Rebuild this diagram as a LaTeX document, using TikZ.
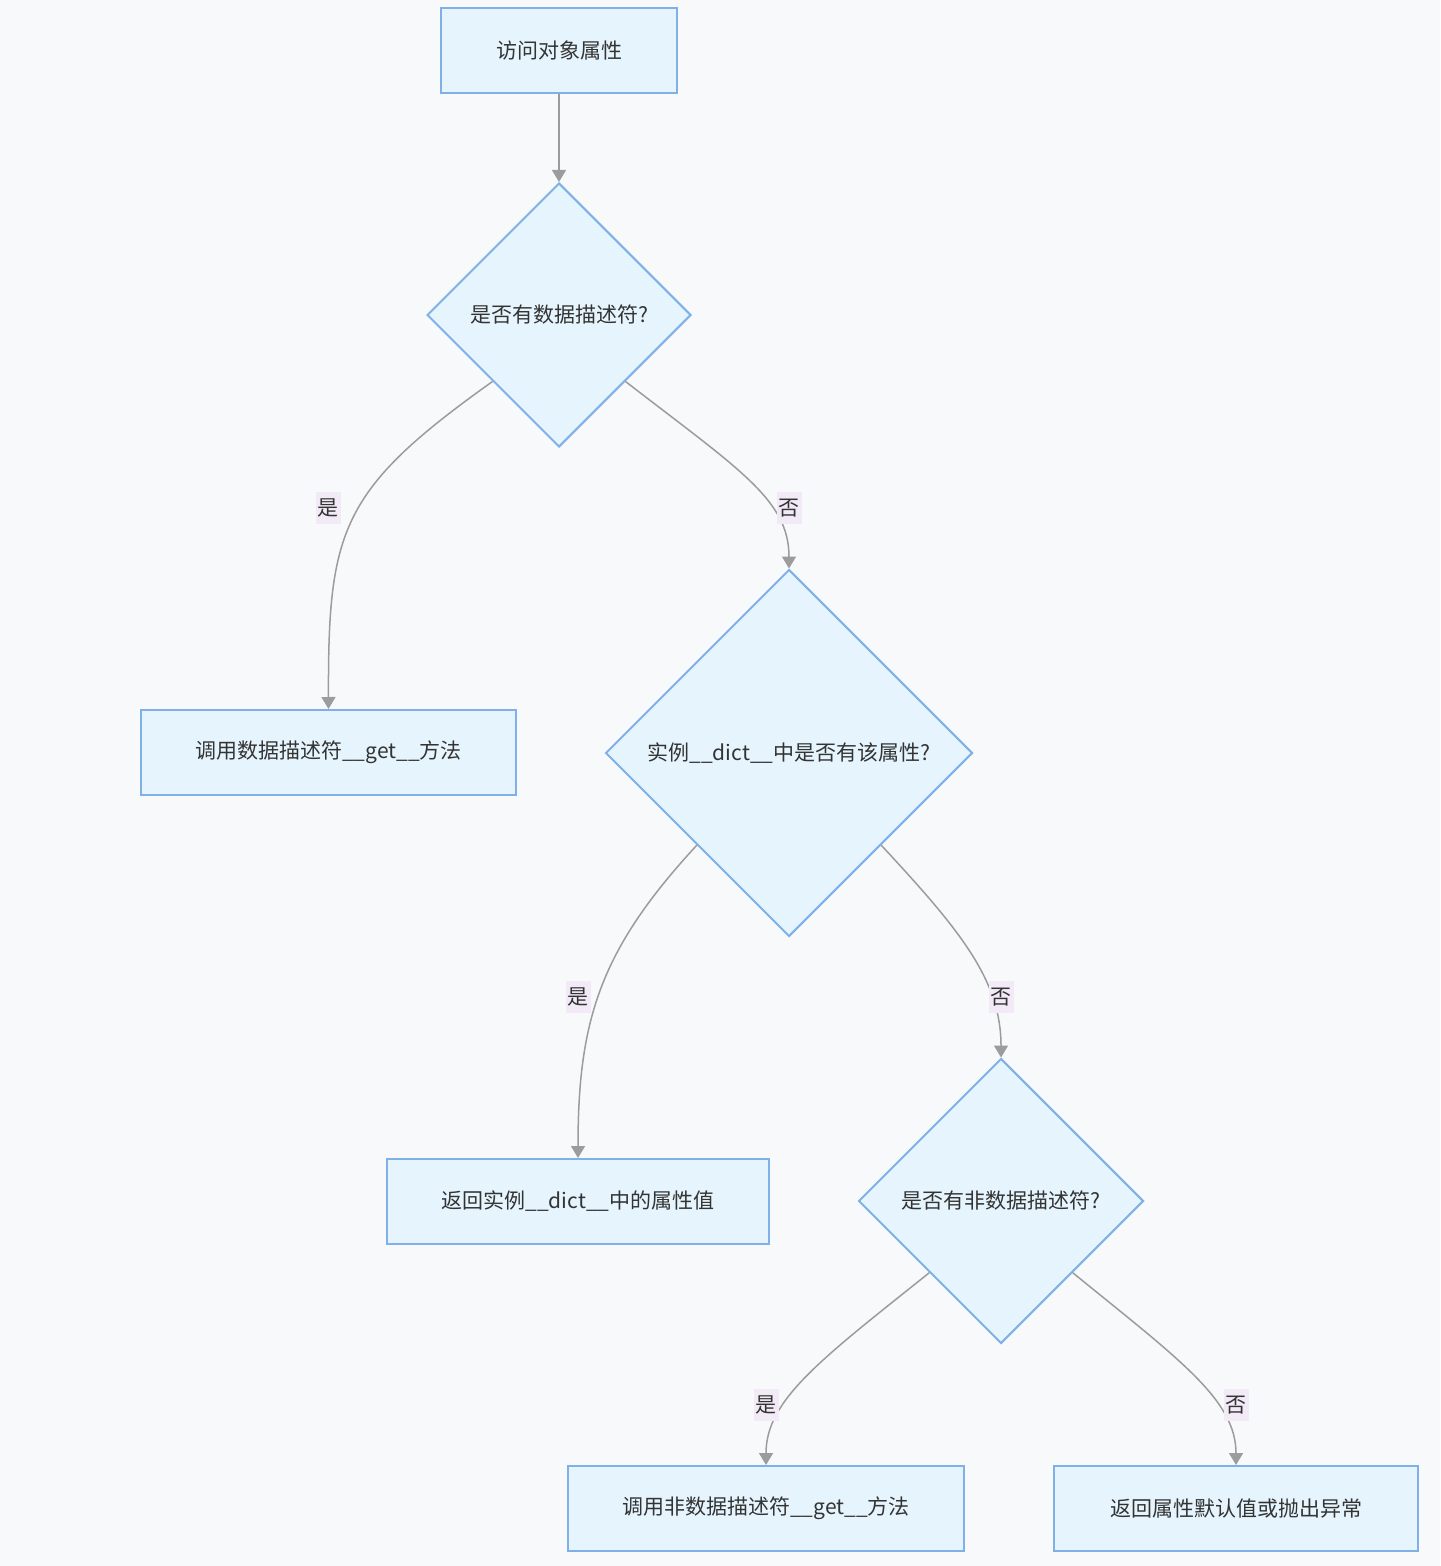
\documentclass[tikz,border=0pt]{standalone}
\usepackage{fontspec}
\setmainfont{Noto Sans CJK SC}
\usetikzlibrary{shapes.geometric,arrows.meta}
\definecolor{boxfill}{HTML}{E6F5FD}
\definecolor{boxline}{HTML}{7FB1E8}
\definecolor{edgegray}{HTML}{9C9C9C}
\definecolor{lblfill}{HTML}{F3EAF8}
\definecolor{pagebg}{HTML}{F8F9FB}
\definecolor{ink}{HTML}{333333}

\begin{document}
\begin{tikzpicture}[x=0.5pt, y=-0.5pt,
  every node/.style={font=\fontsize{10.5}{12}\selectfont, text=ink},
  procbox/.style={rectangle, draw=boxline, fill=boxfill, line width=1pt,
    minimum height=42.5pt, inner sep=0pt},
  decide/.style={diamond, draw=boxline, fill=boxfill, line width=1pt,
    inner sep=0pt, aspect=1},
  flow/.style={draw=edgegray, line width=0.75pt,
    -{Triangle[width=7pt,length=6pt]}},
  answer/.style={fill=lblfill, inner xsep=1pt, inner ysep=3.5pt}]
  \fill[pagebg] (0,0) rectangle (1440,1566); % page background
  \useasboundingbox (0,0) rectangle (1440,1566);

  \node[procbox, minimum width=118pt] (access) at (559,50.5) {访问对象属性};
  \node[decide, minimum width=132pt, minimum height=132pt] (isdata) at (559,315) {是否有数据描述符?};
  \node[procbox, minimum width=187.5pt] (calldata) at (328.5,752.5) {调用数据描述符\_\_get\_\_方法};
  \node[decide, minimum width=183.5pt, minimum height=183.5pt] (indict) at (789,753) {实例\_\_dict\_\_中是否有该属性?};
  \node[procbox, minimum width=191pt] (retdict) at (578,1201.5) {返回实例\_\_dict\_\_中的属性值};
  \node[decide, minimum width=142.5pt, minimum height=142.5pt] (isnondata) at (1001,1201) {是否有非数据描述符?};
  \node[procbox, minimum width=198pt] (callnondata) at (766,1508.5) {调用非数据描述符\_\_get\_\_方法};
  \node[procbox, minimum width=182pt] (fallback) at (1236,1508.5) {返回属性默认值或抛出异常};

  % connectors
  \draw[flow] (access.south) -- (isdata.north);
  \draw[flow] (isdata.south west) .. controls (340,490) and (328,530) .. (calldata.north);
  \draw[flow] (isdata.south east) .. controls (740,470) and (789,500) .. (indict.north);
  \draw[flow] (indict.south west) .. controls (600,950) and (578,1020) .. (retdict.north);
  \draw[flow] (indict.south east) .. controls (960,930) and (1001,980) .. (isnondata.north);
  \draw[flow] (isnondata.south west) .. controls (820,1360) and (766,1400) .. (callnondata.north);
  \draw[flow] (isnondata.south east) .. controls (1180,1360) and (1236,1400) .. (fallback.north);

  % yes / no labels
  \node[answer] (yes1) at (328,508) {是};
  \node[answer] (no1) at (789,508) {否};
  \node[answer] (yes2) at (578,997) {是};
  \node[answer] (no2) at (1001,997) {否};
  \node[answer] (yes3) at (766,1405) {是};
  \node[answer] (no3) at (1236,1405) {否};
\end{tikzpicture}
\end{document}
